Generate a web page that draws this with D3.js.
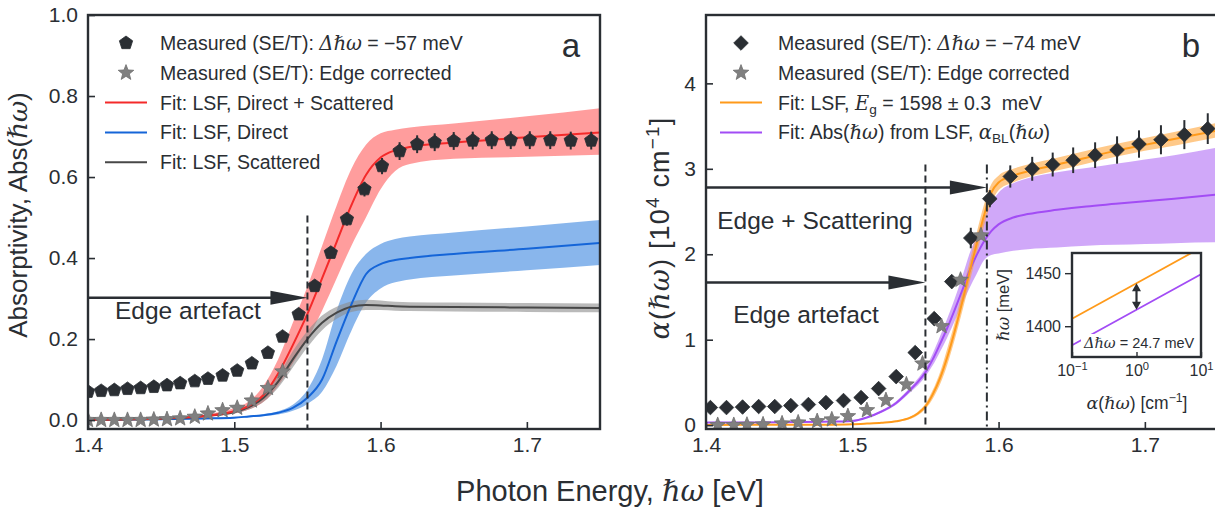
<!DOCTYPE html>
<html>
<head>
<meta charset="utf-8">
<script src="https://cdn.jsdelivr.net/npm/d3@7"></script>
<style>
  body { margin: 0; background: #fff; }
  svg { font-family: "Liberation Sans", Arial, sans-serif; }
</style>
</head>
<body>
<div id="vis"></div>
<script>
const FRAME_WIDTH = 1215;
const FRAME_HEIGHT = 512;
const INK = "#2a2e33";
const MATH = "DejaVu Serif";

// ---- panel a : measured absorptivity ----
const energyA = [1.400, 1.409, 1.418, 1.427, 1.436, 1.445, 1.454, 1.463, 1.473, 1.482, 1.492, 1.502, 1.512, 1.523, 1.533, 1.544,
                 1.555, 1.566, 1.577, 1.589, 1.601, 1.613, 1.625, 1.637, 1.650, 1.663, 1.676, 1.689, 1.702, 1.716, 1.730, 1.744];
const absA = [0.070, 0.072, 0.074, 0.077, 0.079, 0.082, 0.086, 0.091, 0.096, 0.102, 0.110, 0.122, 0.140, 0.166, 0.206, 0.261,
              0.331, 0.413, 0.496, 0.570, 0.627, 0.664, 0.681, 0.686, 0.689, 0.690, 0.691, 0.691, 0.691, 0.691, 0.690, 0.690];
const absErrA = [0, 0, 0, 0, 0, 0, 0, 0, 0, 0, 0, 0, 0, 0, 0, 0.004,
                 0.008, 0.012, 0.016, 0.018, 0.020, 0.022, 0.022, 0.022, 0.022, 0.022, 0.022, 0.022, 0.022, 0.022, 0.022, 0.022];
const starA = [0, 0, 0, 0, 0, 0.001, 0.002, 0.004, 0.008, 0.016, 0.024, 0.030, 0.048, 0.079, 0.120];

// ---- panel a : fits ----
const fitEA = [1.40, 1.45, 1.48, 1.50, 1.51, 1.52, 1.53, 1.54, 1.55, 1.56, 1.57, 1.58, 1.59, 1.60, 1.61, 1.62, 1.65, 1.70, 1.75];
const fitRed    = [0.001, 0.004, 0.010, 0.022, 0.035, 0.062, 0.115, 0.185, 0.262, 0.350, 0.440, 0.530, 0.605, 0.648, 0.666, 0.674, 0.685, 0.698, 0.710];
const fitRedLo  = [0.000, 0.002, 0.007, 0.016, 0.026, 0.045, 0.085, 0.140, 0.200, 0.270, 0.350, 0.430, 0.500, 0.570, 0.615, 0.632, 0.645, 0.650, 0.655];
const fitRedHi  = [0.002, 0.006, 0.014, 0.030, 0.046, 0.085, 0.150, 0.240, 0.330, 0.430, 0.530, 0.620, 0.680, 0.708, 0.717, 0.722, 0.732, 0.750, 0.770];
const fitBlue   = [0.001, 0.002, 0.004, 0.006, 0.009, 0.012, 0.018, 0.030, 0.055, 0.100, 0.195, 0.285, 0.360, 0.385, 0.395, 0.400, 0.410, 0.423, 0.437];
const fitBlueLo = [0.000, 0.001, 0.003, 0.005, 0.007, 0.010, 0.014, 0.023, 0.040, 0.070, 0.135, 0.220, 0.290, 0.325, 0.340, 0.347, 0.357, 0.370, 0.383];
const fitBlueHi = [0.002, 0.003, 0.005, 0.008, 0.011, 0.015, 0.022, 0.038, 0.075, 0.150, 0.270, 0.360, 0.410, 0.435, 0.447, 0.453, 0.463, 0.478, 0.494];
const fitGray   = [0.000, 0.003, 0.010, 0.020, 0.032, 0.055, 0.095, 0.150, 0.200, 0.240, 0.265, 0.280, 0.284, 0.283, 0.281, 0.280, 0.279, 0.278, 0.277];
const fitGrayLo = [0.000, 0.002, 0.008, 0.016, 0.026, 0.045, 0.080, 0.130, 0.180, 0.222, 0.250, 0.267, 0.272, 0.272, 0.270, 0.269, 0.268, 0.267, 0.266];
const fitGrayHi = [0.001, 0.004, 0.012, 0.024, 0.038, 0.065, 0.110, 0.170, 0.220, 0.258, 0.280, 0.293, 0.297, 0.295, 0.292, 0.291, 0.290, 0.289, 0.288];

// ---- panel b : measured absorption coefficient (10^4 cm^-1) ----
const energyB = [1.403, 1.414, 1.425, 1.436, 1.447, 1.458, 1.470, 1.482, 1.494, 1.506, 1.518, 1.530, 1.543, 1.556,
                 1.568, 1.581, 1.594, 1.608, 1.623, 1.637, 1.651, 1.666, 1.681, 1.696, 1.711, 1.727, 1.743];
const alphaB = [0.206, 0.206, 0.212, 0.218, 0.218, 0.229, 0.241, 0.264, 0.288, 0.323, 0.428, 0.568, 0.849, 1.247,
                1.68, 2.19, 2.65, 2.91, 3.00, 3.05, 3.10, 3.16, 3.22, 3.29, 3.34, 3.40, 3.47];
const alphaErrB = [0, 0, 0, 0, 0, 0, 0, 0, 0, 0, 0, 0, 0, 0,
                   0.03, 0.12, 0.10, 0.13, 0.14, 0.14, 0.15, 0.15, 0.16, 0.16, 0.17, 0.17, 0.18];
const starEnergyB = [1.408, 1.419, 1.428, 1.439, 1.452, 1.463, 1.476, 1.486, 1.497, 1.510, 1.523, 1.537, 1.548, 1.561, 1.574, 1.588];
const starB = [0.000, 0.000, 0.003, 0.007, 0.019, 0.030, 0.046, 0.066, 0.104, 0.174, 0.291, 0.475, 0.720, 1.157, 1.700, 2.220];

// ---- panel b : fits ----
const fitEB = [1.40, 1.45, 1.48, 1.50, 1.51, 1.52, 1.53, 1.54, 1.545, 1.55, 1.555, 1.56, 1.565, 1.57,
               1.575, 1.58, 1.585, 1.59, 1.595, 1.60, 1.61, 1.62, 1.64, 1.66, 1.68, 1.70, 1.72, 1.75];
const fitOrange   = [0.003, 0.004, 0.005, 0.010, 0.018, 0.028, 0.045, 0.090, 0.140, 0.220, 0.360, 0.550, 0.800, 1.100,
                     1.430, 1.780, 2.120, 2.450, 2.720, 2.840, 2.920, 2.970, 3.050, 3.130, 3.210, 3.280, 3.350, 3.450];
const fitOrangeLo = [0.002, 0.003, 0.004, 0.008, 0.015, 0.024, 0.038, 0.075, 0.120, 0.190, 0.310, 0.480, 0.710, 1.000,
                     1.320, 1.660, 2.000, 2.330, 2.600, 2.750, 2.840, 2.900, 2.980, 3.060, 3.140, 3.210, 3.270, 3.370];
const fitOrangeHi = [0.004, 0.005, 0.006, 0.012, 0.021, 0.032, 0.052, 0.105, 0.160, 0.250, 0.410, 0.620, 0.900, 1.200,
                     1.550, 1.900, 2.250, 2.580, 2.820, 2.920, 3.000, 3.050, 3.130, 3.210, 3.290, 3.360, 3.430, 3.540];
const fitPurple   = [0.030, 0.033, 0.040, 0.050, 0.090, 0.160, 0.260, 0.420, 0.510, 0.620, 0.770, 0.950, 1.140, 1.350,
                     1.570, 1.800, 1.990, 2.150, 2.270, 2.350, 2.430, 2.470, 2.520, 2.560, 2.590, 2.620, 2.650, 2.700];
const fitPurpleLo = [0.028, 0.031, 0.037, 0.046, 0.083, 0.148, 0.240, 0.390, 0.470, 0.570, 0.700, 0.860, 1.030, 1.220,
                     1.410, 1.600, 1.770, 1.930, 1.990, 2.010, 2.040, 2.060, 2.080, 2.100, 2.110, 2.120, 2.130, 2.140];
const fitPurpleHi = [0.032, 0.035, 0.043, 0.054, 0.097, 0.172, 0.280, 0.450, 0.550, 0.670, 0.840, 1.040, 1.250, 1.480,
                     1.730, 2.000, 2.220, 2.420, 2.600, 2.720, 2.830, 2.890, 2.960, 3.010, 3.060, 3.110, 3.160, 3.250];

// ---- inset : log alpha vs photon energy ----
const insetAlpha = [0.1, 1, 10];
const insetOrange = [1407, 1440.5, 1474];
const insetPurple = [1382, 1415.5, 1449];

// tick values
const xTicks = [1.4, 1.5, 1.6, 1.7];
const yTicksA = [0.0, 0.2, 0.4, 0.6, 0.8, 1.0];
const yTicksB = [0, 1, 2, 3, 4];
const yTicksI = [1400, 1450];

const COLORS = {
  red: "#f42a2a", redBand: "#ff5c5c",
  blue: "#1565d8", blueBand: "#3a86e0",
  gray: "#474747", grayBand: "#8c8c8c",
  orange: "#ff9a1a", orangeBand: "#ffa53a",
  purple: "#a24cf5", purpleBand: "#b06ef5",
  star: "#808080"
};

const X_A = d3.scaleLinear().domain([1.4, 1.75]).range([88, 600]);
const Y_A = d3.scaleLinear().domain([-0.022, 1.0]).range([429, 15]);
const X_B = d3.scaleLinear().domain([1.4, 1.75]).range([706, 1218]);
const Y_B = d3.scaleLinear().domain([-0.045, 4.8]).range([429, 15]);
const X_I = d3.scaleLog().domain([0.1, 10]).range([1072, 1201]);
const Y_I = d3.scaleLinear().domain([1371, 1469]).range([357, 253]);

const FRAME = d3.select("#vis")
  .append("svg")
    .attr("width", FRAME_WIDTH)
    .attr("height", FRAME_HEIGHT);

// regular polygon / star marker paths
function polyPath(n, r, rot) {
  const pts = d3.range(n).map(i => {
    const a = rot + i * 2 * Math.PI / n;
    return [r * Math.cos(a), r * Math.sin(a)];
  });
  return "M" + pts.join("L") + "Z";
}
function starPath(ro, ri) {
  const pts = d3.range(10).map(i => {
    const r = i % 2 === 0 ? ro : ri;
    const a = -Math.PI / 2 + i * Math.PI / 5;
    return [r * Math.cos(a), r * Math.sin(a)];
  });
  return "M" + pts.join("L") + "Z";
}
const PENTAGON = polyPath(5, 7, -Math.PI / 2);
const DIAMOND = polyPath(4, 7.3, -Math.PI / 2);
const STAR = starPath(8.2, 3.5);

// text with math parts: [text, kind]
function rich(sel, parts) {
  parts.forEach(p => {
    const t = sel.append("tspan").text(p[0]);
    if (p[1] === "m") t.attr("font-family", MATH).attr("font-style", "italic");
    if (p[1] === "sub") t.attr("baseline-shift", "-25%").attr("font-size", "70%");
    if (p[1] === "sup") t.attr("baseline-shift", "super").attr("font-size", "70%");
  });
  return sel;
}

function band(g, x, y, xs, lo, hi, color) {
  g.append("path")
    .datum(xs.map((d, i) => [d, lo[i], hi[i]]))
    .attr("fill", color)
    .attr("fill-opacity", 0.6)
    .attr("d", d3.area().curve(d3.curveMonotoneX)
      .x(d => x(d[0])).y0(d => y(d[1])).y1(d => y(d[2])));
}

function curve(g, x, y, xs, ys, color) {
  g.append("path")
    .datum(xs.map((d, i) => [d, ys[i]]))
    .attr("fill", "none")
    .attr("stroke", color)
    .attr("stroke-width", 2)
    .attr("d", d3.line().curve(d3.curveMonotoneX).x(d => x(d[0])).y(d => y(d[1])));
}

function markers(g, x, y, xs, ys, shape, fill) {
  g.selectAll(null)
    .data(ys)
    .enter()
    .append("path")
      .attr("d", shape)
      .attr("transform", (d, i) => "translate(" + x(xs[i]) + "," + y(d) + ")")
      .attr("fill", fill)
      .attr("stroke", fill === INK ? INK : "#6e6e6e")
      .attr("stroke-width", 0.8);
}

function errorBars(g, x, y, xs, ys, errs) {
  g.selectAll(null)
    .data(ys.map((d, i) => [xs[i], d, errs[i]]).filter(d => d[2] > 0))
    .enter()
    .append("line")
      .attr("x1", d => x(d[0])).attr("x2", d => x(d[0]))
      .attr("y1", d => y(d[1] - d[2])).attr("y2", d => y(d[1] + d[2]))
      .attr("stroke", INK)
      .attr("stroke-width", 2);
}

function arrow(g, x0, x1, yy) {
  g.append("line")
    .attr("x1", x0).attr("x2", x1 - 30)
    .attr("y1", yy).attr("y2", yy)
    .attr("stroke", INK).attr("stroke-width", 2.5);
  g.append("path")
    .attr("d", "M" + x1 + "," + yy + "L" + (x1 - 37) + "," + (yy - 7) + "L" + (x1 - 37) + "," + (yy + 7) + "Z")
    .attr("fill", INK);
}

function vline(g, xx, y0, y1, dash) {
  g.append("line")
    .attr("x1", xx).attr("x2", xx)
    .attr("y1", y0).attr("y2", y1)
    .attr("stroke", INK).attr("stroke-width", 2)
    .attr("stroke-dasharray", dash);
}

function axes(g, x, y, yTicks, yFmt) {
  const ax = g.append("g")
    .attr("transform", "translate(0," + y.range()[0] + ")")
    .call(d3.axisBottom(x).tickValues(xTicks).tickFormat(d3.format(".1f")).tickSize(-7).tickPadding(8));
  const ay = g.append("g")
    .attr("transform", "translate(" + x.range()[0] + ",0)")
    .call(d3.axisLeft(y).tickValues(yTicks).tickFormat(yFmt).tickSize(-7).tickPadding(10));
  [ax, ay].forEach(a => {
    a.select(".domain").remove();
    a.attr("font-family", null).attr("font-size", 21);
    a.selectAll("line").attr("stroke", INK).attr("stroke-width", 1.6);
    a.selectAll("text").attr("fill", INK);
  });
}

function frame(g, x, y) {
  g.append("rect")
    .attr("x", x.range()[0]).attr("y", y.range()[1])
    .attr("width", x.range()[1] - x.range()[0])
    .attr("height", y.range()[0] - y.range()[1])
    .attr("fill", "none")
    .attr("stroke", INK)
    .attr("stroke-width", 2.4);
}

function legend(g, x0, tx, rows) {
  rows.forEach((r, i) => {
    const yy = 43 + i * 29.8;
    if (r.shape) {
      g.append("path").attr("d", r.shape)
        .attr("transform", "translate(" + x0 + "," + yy + ")")
        .attr("fill", r.color)
        .attr("stroke", r.color === INK ? INK : "#6e6e6e").attr("stroke-width", 0.8);
    } else {
      g.append("line")
        .attr("x1", x0 - 21).attr("x2", x0 + 21)
        .attr("y1", yy).attr("y2", yy)
        .attr("stroke", r.color).attr("stroke-width", 2);
    }
    rich(g.append("text")
      .attr("x", tx).attr("y", yy + 7)
      .attr("font-size", 19.5)
      .attr("fill", INK), r.text);
  });
}

function clip(id, x, y) {
  FRAME.append("clipPath").attr("id", id)
    .append("rect")
      .attr("x", x.range()[0]).attr("y", y.range()[1])
      .attr("width", x.range()[1] - x.range()[0])
      .attr("height", y.range()[0] - y.range()[1]);
}

// ================= panel a =================
function build_panel_a() {
  clip("clipA", X_A, Y_A);
  const g = FRAME.append("g");
  const d = g.append("g").attr("clip-path", "url(#clipA)");

  band(d, X_A, Y_A, fitEA, fitRedLo, fitRedHi, COLORS.redBand);
  band(d, X_A, Y_A, fitEA, fitBlueLo, fitBlueHi, COLORS.blueBand);
  band(d, X_A, Y_A, fitEA, fitGrayLo, fitGrayHi, COLORS.grayBand);
  curve(d, X_A, Y_A, fitEA, fitBlue, COLORS.blue);
  curve(d, X_A, Y_A, fitEA, fitGray, COLORS.gray);
  curve(d, X_A, Y_A, fitEA, fitRed, COLORS.red);

  markers(d, X_A, Y_A, energyA, starA, STAR, COLORS.star);
  errorBars(d, X_A, Y_A, energyA, absA, absErrA);
  markers(d, X_A, Y_A, energyA, absA, PENTAGON, INK);

  vline(g, X_A(1.55), Y_A(0.505), Y_A.range()[0], "7,4");
  arrow(g, X_A.range()[0], X_A(1.55), Y_A(0.302));
  g.append("text").attr("x", 115).attr("y", 319)
    .attr("font-size", 24.5).attr("fill", INK).text("Edge artefact");

  axes(g, X_A, Y_A, yTicksA, d3.format(".1f"));

  g.append("text").attr("x", 571).attr("y", 57).attr("text-anchor", "middle")
    .attr("font-size", 33).attr("fill", INK).text("a");

  legend(g, 126, 160, [
    {shape: PENTAGON, color: INK, text: [["Measured (SE/T): "], ["Δℏω", "m"], [" = −57 meV"]]},
    {shape: STAR, color: COLORS.star, text: [["Measured (SE/T): Edge corrected"]]},
    {color: COLORS.red, text: [["Fit: LSF, Direct + Scattered"]]},
    {color: COLORS.blue, text: [["Fit: LSF, Direct"]]},
    {color: COLORS.gray, text: [["Fit: LSF, Scattered"]]}
  ]);

  rich(g.append("text")
    .attr("transform", "translate(27,215) rotate(-90)")
    .attr("text-anchor", "middle").attr("font-size", 26).attr("fill", INK),
    [["Absorptivity, Abs("], ["ℏω", "m"], [")"]]);

  frame(g, X_A, Y_A);
}

// ================= panel b =================
function build_panel_b() {
  clip("clipB", X_B, Y_B);
  const g = FRAME.append("g");
  const d = g.append("g").attr("clip-path", "url(#clipB)");

  band(d, X_B, Y_B, fitEB, fitPurpleLo, fitPurpleHi, COLORS.purpleBand);
  band(d, X_B, Y_B, fitEB, fitOrangeLo, fitOrangeHi, COLORS.orangeBand);
  curve(d, X_B, Y_B, fitEB, fitPurple, COLORS.purple);
  curve(d, X_B, Y_B, fitEB, fitOrange, COLORS.orange);

  errorBars(d, X_B, Y_B, energyB, alphaB, alphaErrB);
  markers(d, X_B, Y_B, energyB, alphaB, DIAMOND, INK);
  markers(d, X_B, Y_B, starEnergyB, starB, STAR, COLORS.star);

  vline(g, X_B(1.55), Y_B(3.05), Y_B.range()[0], "7,4");
  vline(g, X_B(1.592), Y_B(3.05), Y_B.range()[0], "9,4,2,4");
  arrow(g, X_B.range()[0], X_B(1.592), Y_B(2.78));
  arrow(g, X_B.range()[0], X_B(1.55), Y_B(1.67));
  g.append("text").attr("x", 815).attr("y", 229).attr("text-anchor", "middle")
    .attr("font-size", 24.5).attr("fill", INK).text("Edge + Scattering");
  g.append("text").attr("x", 806).attr("y", 323).attr("text-anchor", "middle")
    .attr("font-size", 24.5).attr("fill", INK).text("Edge artefact");

  axes(g, X_B, Y_B, yTicksB, d3.format("d"));

  g.append("text").attr("x", 1191).attr("y", 57).attr("text-anchor", "middle")
    .attr("font-size", 33).attr("fill", INK).text("b");

  legend(g, 741, 778, [
    {shape: DIAMOND, color: INK, text: [["Measured (SE/T): "], ["Δℏω", "m"], [" = −74 meV"]]},
    {shape: STAR, color: COLORS.star, text: [["Measured (SE/T): Edge corrected"]]},
    {color: COLORS.orange, text: [["Fit: LSF, "], ["E", "m"], ["g", "sub"], [" = 1598 ± 0.3\u00a0\u00a0meV"]]},
    {color: COLORS.purple, text: [["Fit: Abs("], ["ℏω", "m"], [") from LSF, "], ["α", "m"], ["BL", "sub"], ["("], ["ℏω", "m"], [")"]]}
  ]);

  rich(g.append("text")
    .attr("transform", "translate(669,228) rotate(-90)")
    .attr("text-anchor", "middle").attr("font-size", 27).attr("fill", INK)
    .attr("letter-spacing", 1.2),
    [["α", "m"], ["("], ["ℏω", "m"], [") [10"], ["4", "sup"], [" cm"], ["−1", "sup"], ["]"]]);

  frame(g, X_B, Y_B);
}

// ================= inset =================
function build_inset() {
  clip("clipI", X_I, Y_I);
  const g = FRAME.append("g");
  g.append("rect")
    .attr("x", X_I.range()[0]).attr("y", Y_I.range()[1])
    .attr("width", X_I.range()[1] - X_I.range()[0])
    .attr("height", Y_I.range()[0] - Y_I.range()[1])
    .attr("fill", "#fff");
  const d = g.append("g").attr("clip-path", "url(#clipI)");
  const line = d3.line().x((v, i) => X_I(insetAlpha[i])).y(v => Y_I(v));
  d.append("path").datum(insetPurple).attr("d", line)
    .attr("fill", "none").attr("stroke", COLORS.purple).attr("stroke-width", 1.8);
  d.append("path").datum(insetOrange).attr("d", line)
    .attr("fill", "none").attr("stroke", COLORS.orange).attr("stroke-width", 1.8);

  // double arrow for the shift at alpha = 1
  const ax = X_I(1), yTop = Y_I(insetOrange[1]), yBot = Y_I(insetPurple[1]);
  d.append("line").attr("x1", ax).attr("x2", ax).attr("y1", yTop + 6).attr("y2", yBot - 6)
    .attr("stroke", INK).attr("stroke-width", 2.2);
  d.append("path").attr("fill", INK)
    .attr("d", "M" + ax + "," + yTop + "l-4.5,8l9,0Z M" + ax + "," + yBot + "l-4.5,-8l9,0Z");

  // label with white box
  const lab = d.append("text").attr("x", 1084).attr("y", 348)
    .attr("font-size", 14.5).attr("fill", INK);
  rich(lab, [["Δℏω", "m"], [" = 24.7 meV"]]);
  const bb = lab.node().getBBox();
  d.insert("rect", "text")
    .attr("x", bb.x - 2).attr("y", bb.y - 1).attr("width", bb.width + 4).attr("height", bb.height + 2)
    .attr("fill", "#fff");

  const ay = g.append("g")
    .attr("transform", "translate(" + X_I.range()[0] + ",0)")
    .call(d3.axisLeft(Y_I).tickValues(yTicksI).tickFormat(d3.format("d")).tickSize(7).tickPadding(4));
  const ax2 = g.append("g")
    .attr("transform", "translate(0," + Y_I.range()[0] + ")")
    .call(d3.axisBottom(X_I).tickValues(insetAlpha).tickSize(-5).tickPadding(8));
  [ay, ax2].forEach(a => {
    a.select(".domain").remove();
    a.attr("font-family", null).attr("font-size", 16);
    a.selectAll("line").attr("stroke", INK).attr("stroke-width", 1.4);
    a.selectAll("text").attr("fill", INK);
  });
  ax2.selectAll("text").each(function(v) {
    const t = d3.select(this).text("10");
    const p = Math.round(Math.log10(v));
    t.append("tspan").attr("baseline-shift", "super").attr("font-size", "70%")
      .text(p < 0 ? "−" + (-p) : p);
  });

  rich(g.append("text")
    .attr("transform", "translate(1009,305) rotate(-90)")
    .attr("text-anchor", "middle").attr("font-size", 16.5).attr("fill", INK),
    [["ℏω", "m"], [" [meV]"]]);
  rich(g.append("text")
    .attr("x", 1137).attr("y", 409)
    .attr("text-anchor", "middle").attr("font-size", 17.5).attr("fill", INK),
    [["α", "m"], ["("], ["ℏω", "m"], [") [cm"], ["−1", "sup"], ["]"]]);

  frame(g, X_I, Y_I);
}

build_panel_a();
build_panel_b();
build_inset();

// shared x label
rich(FRAME.append("text")
  .attr("x", 610).attr("y", 501)
  .attr("text-anchor", "middle").attr("font-size", 29).attr("fill", INK),
  [["Photon Energy, "], ["ℏω", "m"], [" [eV]"]]);
</script>
</body>
</html>
